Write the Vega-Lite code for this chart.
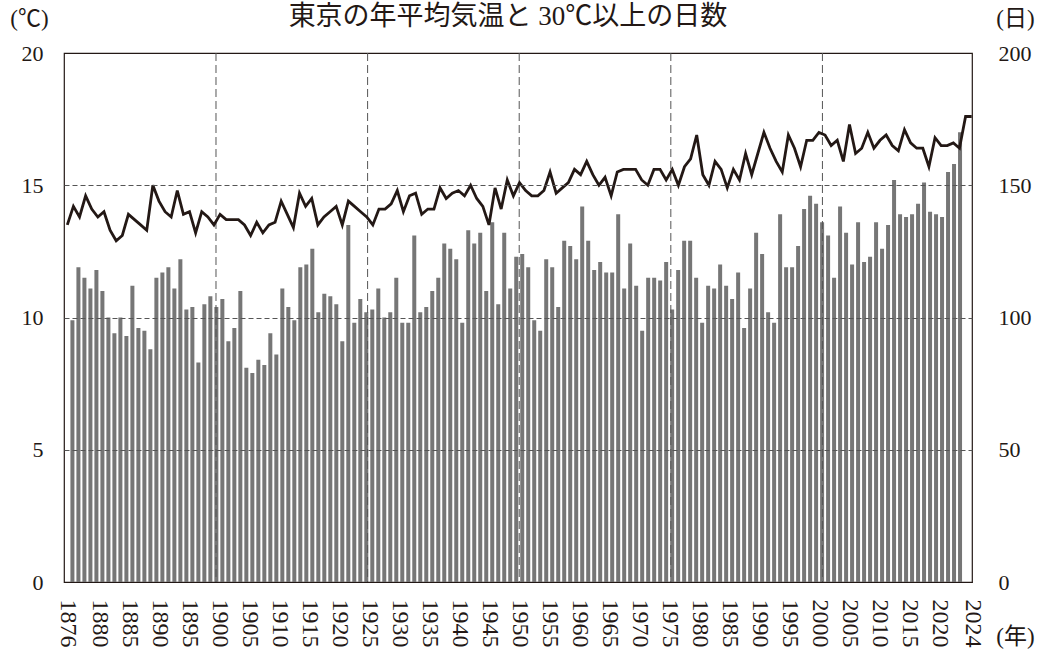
{
  "$schema": "https://vega.github.io/schema/vega-lite/v6.json",
  "width": 908,
  "height": 529,
  "autosize": {"type": "none"},
  "padding": {"left": 64, "top": 53, "right": 76, "bottom": 71},
  "background": "white",
  "title": {
    "text": "東京の年平均気温と 30℃以上の日数",
    "font": "Liberation Serif, Noto Sans CJK JP",
    "fontSize": 27,
    "fontWeight": "normal",
    "color": "#231815",
    "frame": "group",
    "anchor": "middle",
    "baseline": "middle",
    "offset": -37,
    "dx": -10
  },
  "datasets": {
    "grid": [{"gy": 1900}, {"gy": 1925}, {"gy": 1950}, {"gy": 1975}, {"gy": 2000}]
  },
  "data": {"values": [
    {"year":1876,"temp":13.5,"days":99},{"year":1877,"temp":14.2,"days":119},{"year":1878,"temp":13.8,"days":115},{"year":1879,"temp":14.6,"days":111},{"year":1880,"temp":14.1,"days":118},
    {"year":1881,"temp":13.8,"days":110},{"year":1882,"temp":14.0,"days":100},{"year":1883,"temp":13.3,"days":94},{"year":1884,"temp":12.9,"days":100},{"year":1885,"temp":13.1,"days":93},
    {"year":1886,"temp":13.9,"days":112},{"year":1887,"temp":13.7,"days":96},{"year":1888,"temp":13.5,"days":95},{"year":1889,"temp":13.3,"days":88},{"year":1890,"temp":15.0,"days":115},
    {"year":1891,"temp":14.4,"days":117},{"year":1892,"temp":14.0,"days":119},{"year":1893,"temp":13.8,"days":111},{"year":1894,"temp":14.8,"days":122},{"year":1895,"temp":13.9,"days":103},
    {"year":1896,"temp":14.0,"days":104},{"year":1897,"temp":13.2,"days":83},{"year":1898,"temp":14.0,"days":105},{"year":1899,"temp":13.8,"days":108},{"year":1900,"temp":13.5,"days":104},
    {"year":1901,"temp":13.9,"days":107},{"year":1902,"temp":13.7,"days":91},{"year":1903,"temp":13.7,"days":96},{"year":1904,"temp":13.7,"days":110},{"year":1905,"temp":13.5,"days":81},
    {"year":1906,"temp":13.1,"days":79},{"year":1907,"temp":13.6,"days":84},{"year":1908,"temp":13.2,"days":82},{"year":1909,"temp":13.5,"days":94},{"year":1910,"temp":13.6,"days":86},
    {"year":1911,"temp":14.4,"days":111},{"year":1912,"temp":13.9,"days":104},{"year":1913,"temp":13.4,"days":99},{"year":1914,"temp":14.7,"days":119},{"year":1915,"temp":14.2,"days":120},
    {"year":1916,"temp":14.5,"days":126},{"year":1917,"temp":13.5,"days":102},{"year":1918,"temp":13.8,"days":109},{"year":1919,"temp":14.0,"days":108},{"year":1920,"temp":14.2,"days":105},
    {"year":1921,"temp":13.5,"days":91},{"year":1922,"temp":14.4,"days":135},{"year":1923,"temp":14.2,"days":98},{"year":1924,"temp":14.0,"days":107},{"year":1925,"temp":13.8,"days":102},
    {"year":1926,"temp":13.5,"days":103},{"year":1927,"temp":14.1,"days":111},{"year":1928,"temp":14.1,"days":100},{"year":1929,"temp":14.3,"days":102},{"year":1930,"temp":14.8,"days":115},
    {"year":1931,"temp":14.0,"days":98},{"year":1932,"temp":14.6,"days":98},{"year":1933,"temp":14.7,"days":131},{"year":1934,"temp":13.9,"days":102},{"year":1935,"temp":14.1,"days":104},
    {"year":1936,"temp":14.1,"days":110},{"year":1937,"temp":14.9,"days":115},{"year":1938,"temp":14.5,"days":128},{"year":1939,"temp":14.7,"days":126},{"year":1940,"temp":14.8,"days":122},
    {"year":1941,"temp":14.6,"days":98},{"year":1942,"temp":15.0,"days":133},{"year":1943,"temp":14.5,"days":128},{"year":1944,"temp":14.2,"days":132},{"year":1945,"temp":13.5,"days":110},
    {"year":1946,"temp":14.9,"days":136},{"year":1947,"temp":14.1,"days":105},{"year":1948,"temp":15.2,"days":132},{"year":1949,"temp":14.6,"days":111},{"year":1950,"temp":15.1,"days":123},
    {"year":1951,"temp":14.8,"days":124},{"year":1952,"temp":14.6,"days":119},{"year":1953,"temp":14.6,"days":99},{"year":1954,"temp":14.8,"days":95},{"year":1955,"temp":15.5,"days":122},
    {"year":1956,"temp":14.7,"days":119},{"year":1957,"temp":14.9,"days":104},{"year":1958,"temp":15.1,"days":129},{"year":1959,"temp":15.6,"days":127},{"year":1960,"temp":15.4,"days":122},
    {"year":1961,"temp":15.9,"days":142},{"year":1962,"temp":15.4,"days":129},{"year":1963,"temp":15.0,"days":118},{"year":1964,"temp":15.3,"days":121},{"year":1965,"temp":14.6,"days":117},
    {"year":1966,"temp":15.5,"days":117},{"year":1967,"temp":15.6,"days":139},{"year":1968,"temp":15.6,"days":111},{"year":1969,"temp":15.6,"days":128},{"year":1970,"temp":15.2,"days":112},
    {"year":1971,"temp":15.0,"days":95},{"year":1972,"temp":15.6,"days":115},{"year":1973,"temp":15.6,"days":115},{"year":1974,"temp":15.2,"days":114},{"year":1975,"temp":15.6,"days":121},
    {"year":1976,"temp":15.0,"days":103},{"year":1977,"temp":15.7,"days":118},{"year":1978,"temp":16.0,"days":129},{"year":1979,"temp":16.9,"days":129},{"year":1980,"temp":15.4,"days":115},
    {"year":1981,"temp":15.0,"days":98},{"year":1982,"temp":15.9,"days":112},{"year":1983,"temp":15.6,"days":111},{"year":1984,"temp":14.9,"days":120},{"year":1985,"temp":15.6,"days":112},
    {"year":1986,"temp":15.2,"days":107},{"year":1987,"temp":16.2,"days":117},{"year":1988,"temp":15.4,"days":96},{"year":1989,"temp":16.2,"days":111},{"year":1990,"temp":17.0,"days":132},
    {"year":1991,"temp":16.4,"days":124},{"year":1992,"temp":15.9,"days":102},{"year":1993,"temp":15.5,"days":98},{"year":1994,"temp":16.9,"days":139},{"year":1995,"temp":16.4,"days":119},
    {"year":1996,"temp":15.7,"days":119},{"year":1997,"temp":16.7,"days":127},{"year":1998,"temp":16.7,"days":141},{"year":1999,"temp":17.0,"days":146},{"year":2000,"temp":16.9,"days":143},
    {"year":2001,"temp":16.5,"days":136},{"year":2002,"temp":16.7,"days":131},{"year":2003,"temp":15.9,"days":115},{"year":2004,"temp":17.3,"days":142},{"year":2005,"temp":16.2,"days":132},
    {"year":2006,"temp":16.4,"days":120},{"year":2007,"temp":17.0,"days":136},{"year":2008,"temp":16.4,"days":121},{"year":2009,"temp":16.7,"days":123},{"year":2010,"temp":16.9,"days":136},
    {"year":2011,"temp":16.5,"days":126},{"year":2012,"temp":16.3,"days":135},{"year":2013,"temp":17.1,"days":152},{"year":2014,"temp":16.6,"days":139},{"year":2015,"temp":16.4,"days":138},
    {"year":2016,"temp":16.4,"days":139},{"year":2017,"temp":15.7,"days":143},{"year":2018,"temp":16.8,"days":151},{"year":2019,"temp":16.5,"days":140},{"year":2020,"temp":16.5,"days":139},
    {"year":2021,"temp":16.6,"days":138},{"year":2022,"temp":16.4,"days":155},{"year":2023,"temp":17.6,"days":158},{"year":2024,"temp":17.6,"days":170}
  ]},
  "layer": [
    {
      "mark": {"type": "bar", "size": 4, "color": "#767676"},
      "encoding": {
        "x": {
          "field": "year", "type": "quantitative",
          "scale": {"domain": [1875.43, 2025.16], "nice": false, "zero": false},
          "axis": {
            "values": [1876,1880,1885,1890,1895,1900,1905,1910,1915,1920,1925,1930,1935,1940,1945,1950,1955,1960,1965,1970,1975,1980,1985,1990,1995,2000,2005,2010,2015,2020,2024],
            "format": "d",
            "labelAngle": 90, "labelAlign": "left", "labelBaseline": "middle",
            "labelFont": "Liberation Serif", "labelFontSize": 24, "labelColor": "#231815",
            "labelPadding": 17, "labelFlush": false, "labelOverlap": false,
            "labelOffset": {"condition": [{"test": "datum.value == 1876", "value": -5}, {"test": "datum.value == 2024", "value": 12}], "value": 3},
            "ticks": false, "grid": false,
            "domain": true, "domainColor": "#231815", "domainWidth": 1.2,
            "title": "(年)", "titleX": 951, "titleY": 54, "titleAngle": 0,
            "titleAlign": "center", "titleBaseline": "middle",
            "titleFont": "Liberation Serif, Noto Sans CJK JP", "titleFontSize": 23, "titleFontWeight": "normal", "titleColor": "#231815",
            "zindex": 1
          }
        },
        "y": {
          "field": "days", "type": "quantitative",
          "scale": {"domain": [0, 200], "nice": false},
          "axis": {
            "orient": "right",
            "values": [0, 50, 100, 150, 200],
            "labelFont": "Liberation Serif", "labelFontSize": 22, "labelColor": "#231815",
            "labelPadding": 26, "labelAlign": "left",
            "ticks": false, "grid": false, "domain": false,
            "title": "(日)", "titleX": 43, "titleY": -35, "titleAngle": 0,
            "titleAlign": "center", "titleBaseline": "middle",
            "titleFont": "Liberation Serif, Noto Sans CJK JP", "titleFontSize": 23, "titleFontWeight": "normal", "titleColor": "#231815"
          }
        }
      }
    },
    {
      "data": {"name": "grid"},
      "mark": {"type": "rule", "strokeDash": [8, 4], "color": "#555555", "strokeWidth": 1, "xOffset": 3},
      "encoding": {
        "x": {
          "field": "gy", "type": "quantitative",
          "scale": {"domain": [1875.43, 2025.16], "nice": false, "zero": false},
          "axis": null
        }
      }
    },
    {
      "mark": {"type": "line", "color": "#231815", "strokeWidth": 2.8},
      "encoding": {
        "x": {
          "field": "year", "type": "quantitative",
          "scale": {"domain": [1875.46, 2024.05], "nice": false, "zero": false},
          "axis": null
        },
        "y": {
          "field": "temp", "type": "quantitative",
          "scale": {"domain": [0, 20], "nice": false},
          "axis": {
            "orient": "left",
            "values": [0, 5, 10, 15, 20],
            "labelFont": "Liberation Serif", "labelFontSize": 22, "labelColor": "#231815",
            "labelPadding": 21,
            "ticks": false, "domain": false,
            "grid": true, "gridColor": "#555555", "gridDash": [5, 3], "gridWidth": 1,
            "gridOpacity": {"condition": {"test": "datum.value == 0 || datum.value == 20", "value": 0}, "value": 1},
            "title": "(℃)", "titleX": -35, "titleY": -35, "titleAngle": 0,
            "titleAlign": "center", "titleBaseline": "middle",
            "titleFont": "Liberation Serif, Noto Sans CJK JP", "titleFontSize": 23, "titleFontWeight": "normal", "titleColor": "#231815",
            "zindex": 1
          }
        }
      }
    }
  ],
  "resolve": {"scale": {"x": "independent", "y": "independent"}},
  "config": {
    "view": {"stroke": "#231815", "strokeWidth": 1.2}
  }
}
